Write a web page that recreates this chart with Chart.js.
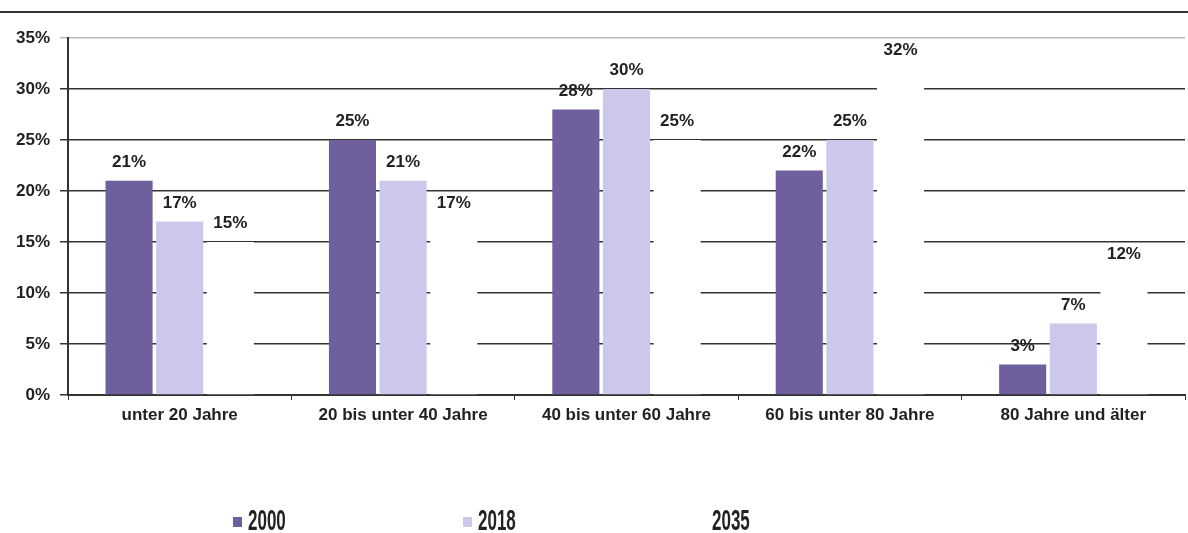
<!DOCTYPE html>
<html>
<head>
<meta charset="utf-8">
<script src="https://cdn.jsdelivr.net/npm/chart.js@4"></script>
<style>
  html, body { margin: 0; padding: 0; background: #fff; }
  #wrap { position: relative; width: 1188px; height: 533px; }
  #topline { position: absolute; left: 0; top: 11px; width: 1188px; height: 2px; background: #333; }
</style>
</head>
<body>
<div id="wrap">
  <div id="topline"></div>
  <canvas id="grafico" width="1188" height="533"></canvas>
</div>
<script>
// categorias e valores (em %)
const categorias = ['unter 20 Jahre', '20 bis unter 40 Jahre', '40 bis unter 60 Jahre', '60 bis unter 80 Jahre', '80 Jahre und älter'];
const anos = ['2000', '2018', '2035'];
const valores2000 = [21, 25, 28, 22, 3];
const valores2018 = [17, 21, 30, 25, 7];
const valores2035 = [15, 17, 25, 32, 12];
const cores = ['#6f5f9c', '#cbc8ec', '#ffffff'];

const fonte = '"Liberation Sans", Arial, sans-serif';

// rótulos com o valor em cima de cada barra
const rotulos = {
  id: 'rotulos',
  afterDatasetsDraw(chart) {
    const ctx = chart.ctx;
    ctx.save();
    ctx.font = 'bold 17px ' + fonte;
    ctx.fillStyle = '#222';
    ctx.textAlign = 'center';
    ctx.textBaseline = 'bottom';
    chart.data.datasets.forEach((ds, i) => {
      chart.getDatasetMeta(i).data.forEach((bar, j) => {
        ctx.fillText(ds.data[j] + '%', bar.x, bar.y - 10);
      });
    });
    ctx.restore();
  }
};

// legenda desenhada à mão (posições como na figura)
const legenda = {
  id: 'legenda',
  afterDraw(chart) {
    const ctx = chart.ctx;
    const xs = [233, 463, 697];
    ctx.save();
    chart.data.datasets.forEach((ds, i) => {
      ctx.fillStyle = ds.backgroundColor;
      ctx.fillRect(xs[i], 517, 9, 10);
      ctx.save();
      ctx.translate(xs[i] + 15, 522);
      ctx.scale(0.85, 1.45);
      ctx.font = 'bold 20px ' + fonte;
      ctx.fillStyle = '#222';
      ctx.textBaseline = 'middle';
      ctx.fillText(ds.label, 0, 0);
      ctx.restore();
    });
    ctx.restore();
  }
};

new Chart(document.getElementById('grafico'), {
  type: 'bar',
  data: {
    labels: categorias,
    datasets: anos.map((a, i) => ({
      label: a,
      data: [valores2000, valores2018, valores2035][i],
      backgroundColor: cores[i],
      barPercentage: 0.93,
      categoryPercentage: 0.68
    }))
  },
  options: {
    responsive: false,
    animation: false,
    layout: { padding: { top: 38, right: 3, left: 0, bottom: 0 } },
    plugins: {
      legend: { display: false },
      tooltip: { enabled: false }
    },
    scales: {
      x: {
        afterFit: s => { s.height = 138; },
        grid: { drawOnChartArea: false, color: '#333', tickLength: 5, offset: true },
        border: { color: '#333', width: 2 },
        ticks: {
          color: '#222',
          font: { family: fonte, size: 17, weight: 'bold' },
          padding: 5
        }
      },
      y: {
        min: 0,
        max: 35,
        afterFit: s => { s.width = 68; },
        border: { color: '#333', width: 2 },
        grid: {
          color: c => c.tick && c.tick.value === 35 ? '#bbb' : '#333',
          lineWidth: 1.5,
          tickLength: 8
        },
        ticks: {
          stepSize: 5,
          color: '#222',
          padding: 10,
          font: { family: fonte, size: 17, weight: 'bold' },
          callback: v => v + '%'
        }
      }
    }
  },
  plugins: [rotulos, legenda]
});
</script>
</body>
</html>
